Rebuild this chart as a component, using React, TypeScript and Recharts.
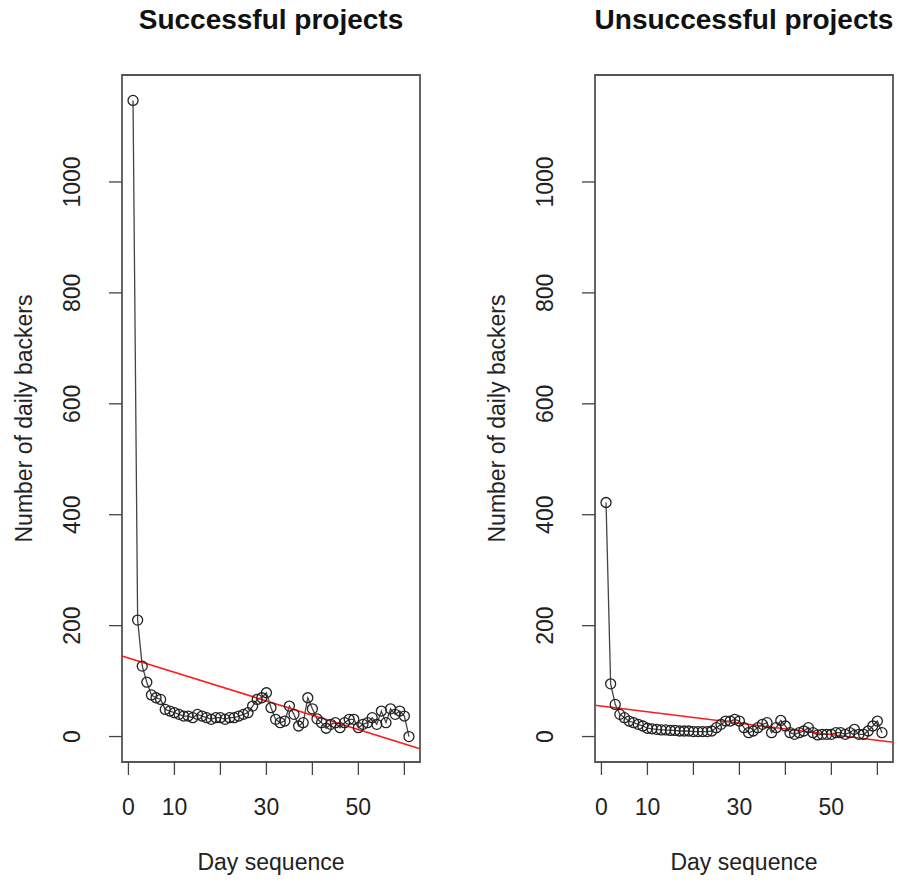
import { ComposedChart, Line, XAxis, YAxis, ReferenceLine, ReferenceArea } from 'recharts';

// Daily backer counts, day 1 .. day 61
const SUCCESSFUL_BACKERS = [
  1147, 210, 127, 98, 75, 70, 67, 49, 46, 43,
  40, 37, 37, 34, 40, 37, 34, 31, 34, 34,
  31, 34, 34, 37, 40, 43, 55, 67, 70, 79,
  52, 31, 25, 28, 55, 40, 19, 25, 70, 50,
  32, 25, 15, 22, 25, 16, 25, 31, 31, 16,
  22, 25, 34, 22, 46, 25, 50, 40, 46, 37, 0,
];

const UNSUCCESSFUL_BACKERS = [
  422, 95, 58, 40, 34, 28, 25, 22, 19, 15,
  14, 13, 12, 12, 11, 11, 10, 10, 10, 9,
  9, 9, 9, 10, 16, 22, 28, 28, 31, 28,
  16, 7, 10, 16, 22, 25, 7, 16, 29, 19,
  7, 4, 7, 10, 16, 7, 3, 4, 4, 4,
  7, 7, 4, 7, 13, 4, 4, 10, 19, 28, 7,
];

const X_TICKS = [0, 10, 20, 30, 40, 50, 60];
const X_TICK_LABELS = ['0', '10', '', '30', '', '50', ''];
const Y_TICKS = [0, 200, 400, 600, 800, 1000];

const PANEL_TITLES = ['Successful projects', 'Unsuccessful projects'];
const X_TITLE = 'Day sequence';
const Y_TITLE = 'Number of daily backers';

const FONT = '"Liberation Sans", Arial, Helvetica, sans-serif';
const INK = '#222';

// base-graphics style range: data extent padded 4% on each side
function padRange(lo: number, hi: number): [number, number] {
  const d = (hi - lo) * 0.04;
  return [lo - d, hi + d];
}

// ordinary least squares, y = a + b * x
function fitLine(xs: number[], ys: number[]) {
  const n = xs.length;
  const mx = xs.reduce((s, v) => s + v, 0) / n;
  const my = ys.reduce((s, v) => s + v, 0) / n;
  let sxy = 0;
  let sxx = 0;
  for (let i = 0; i < n; i++) {
    sxy += (xs[i] - mx) * (ys[i] - my);
    sxx += (xs[i] - mx) ** 2;
  }
  const b = sxy / sxx;
  return { a: my - b * mx, b };
}

const Y_DOMAIN = padRange(0, Math.max(...SUCCESSFUL_BACKERS));

function XTick({ x, y, payload }: any) {
  const idx = X_TICKS.indexOf(payload.value);
  const label = X_TICK_LABELS[idx];
  if (!label) return null;
  return (
    <text x={x} y={y + 38} textAnchor="middle" fontSize={23} fontFamily={FONT} fill={INK}>
      {label}
    </text>
  );
}

function YTick({ x, y, payload }: any) {
  return (
    <text
      transform={`translate(${x - 27},${y}) rotate(-90)`}
      textAnchor="middle"
      fontSize={23}
      fontFamily={FONT}
      fill={INK}
    >
      {payload.value}
    </text>
  );
}

function Panel({ title, values }: { title: string; values: number[] }) {
  const rows = values.map((v, i) => ({ day: i + 1, backers: v }));
  const days = rows.map((r) => r.day);
  const xDomain = padRange(days[0], days[days.length - 1]);
  const { a, b } = fitLine(days, values);

  return (
    <div style={{ position: 'relative', width: 425, height: 884 }}>
      <div
        style={{
          position: 'absolute',
          left: 271,
          top: 6,
          transform: 'translateX(-50%)',
          lineHeight: '28px',
          fontSize: 28,
          fontWeight: 'bold',
          fontFamily: FONT,
          whiteSpace: 'nowrap',
          color: '#111',
        }}
      >
        {title}
      </div>
      <ComposedChart
        width={425}
        height={884}
        data={rows}
        margin={{ top: 75, right: 5, bottom: 0, left: 0 }}
      >
        <XAxis
          type="number"
          dataKey="day"
          domain={xDomain}
          allowDataOverflow
          ticks={X_TICKS}
          interval={0}
          height={122}
          axisLine={false}
          tickSize={13}
          tickLine={{ stroke: '#444', strokeWidth: 1.3 }}
          tick={<XTick />}
          label={({ viewBox }: any) => (
            <text
              x={viewBox.x + viewBox.width / 2}
              y={viewBox.y + 108}
              textAnchor="middle"
              fontSize={23}
              fontFamily={FONT}
              fill={INK}
            >
              {X_TITLE}
            </text>
          )}
        />
        <YAxis
          type="number"
          domain={Y_DOMAIN}
          allowDataOverflow
          ticks={Y_TICKS}
          interval={0}
          width={122}
          axisLine={false}
          tickSize={13}
          tickLine={{ stroke: '#444', strokeWidth: 1.3 }}
          tick={<YTick />}
          label={({ viewBox }: any) => (
            <text
              transform={`translate(${viewBox.x + 32},${viewBox.y + viewBox.height / 2}) rotate(-90)`}
              textAnchor="middle"
              fontSize={23}
              fontFamily={FONT}
              fill={INK}
            >
              {Y_TITLE}
            </text>
          )}
        />
        {/* plot frame */}
        <ReferenceArea
          x1={xDomain[0]}
          x2={xDomain[1]}
          y1={Y_DOMAIN[0]}
          y2={Y_DOMAIN[1]}
          fill="none"
          stroke="#555"
          strokeWidth={1.8}
          ifOverflow="visible"
        />
        <Line
          type="linear"
          dataKey="backers"
          stroke="#444"
          strokeWidth={1.3}
          dot={{ r: 5, stroke: INK, strokeWidth: 1.3, fill: 'none' }}
          activeDot={false}
          isAnimationActive={false}
        />
        {/* linear trend across the full x range */}
        <ReferenceLine
          segment={[
            { x: xDomain[0], y: a + b * xDomain[0] },
            { x: xDomain[1], y: a + b * xDomain[1] },
          ]}
          stroke="#ff1a1a"
          strokeWidth={1.6}
          ifOverflow="visible"
        />
      </ComposedChart>
    </div>
  );
}

export default function App() {
  return (
    <div
      style={{
        position: 'fixed',
        left: 0,
        top: 0,
        width: 898,
        height: 884,
        overflow: 'hidden',
        background: '#fff',
      }}
    >
      <div style={{ position: 'absolute', left: 0, top: 0 }}>
        <Panel title={PANEL_TITLES[0]} values={SUCCESSFUL_BACKERS} />
      </div>
      <div style={{ position: 'absolute', left: 473, top: 0 }}>
        <Panel title={PANEL_TITLES[1]} values={UNSUCCESSFUL_BACKERS} />
      </div>
    </div>
  );
}
